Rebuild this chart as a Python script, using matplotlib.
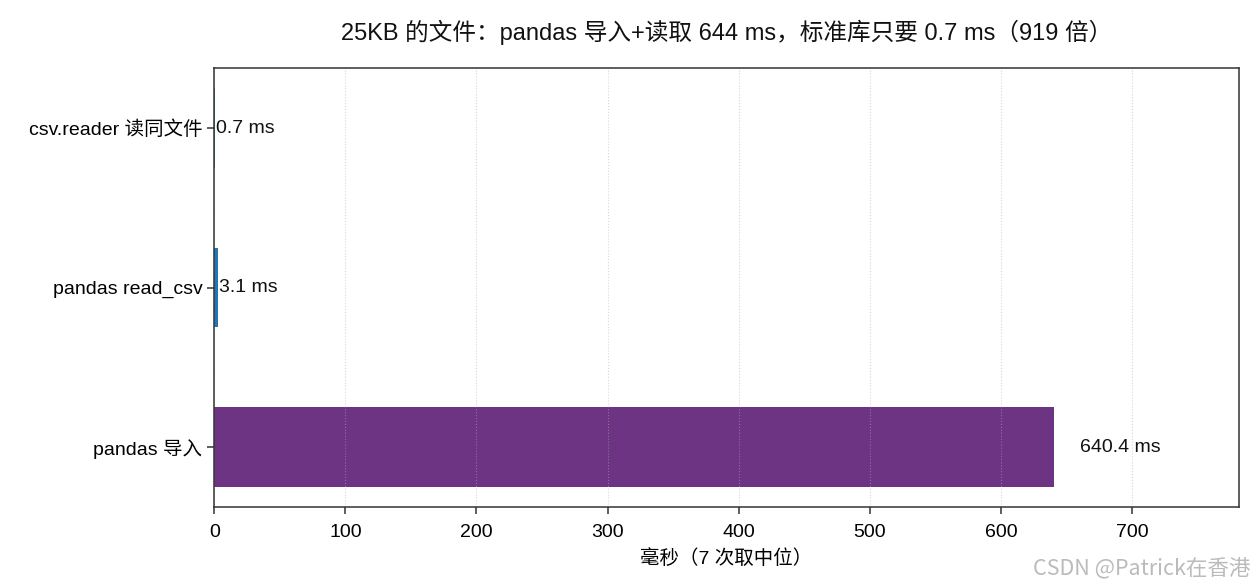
import matplotlib
matplotlib.use("Agg")
import matplotlib.pyplot as plt

plt.rcParams['font.family'] = ['Liberation Sans', 'Noto Sans CJK SC', 'DejaVu Sans']
plt.rcParams['axes.unicode_minus'] = False

# 数据（7 次取中位）
labels = ['pandas 导入', 'pandas read_csv', 'csv.reader 读同文件']
times_ms = [640.4, 3.1, 0.7]
colors = ['#6c3483', '#1f77b4', '#27ae60']

fig, ax = plt.subplots(figsize=(12.6, 5.88), dpi=100)
ax.barh(labels, times_ms, height=0.5, color=colors)

xmax = max(times_ms) * 1.22
ax.set_xlim(0, xmax)

for i, v in enumerate(times_ms):
    off = 20 if v > 100 else 0.3
    ax.text(v + off, i, f'{v:.1f} ms', va='center', ha='left', fontsize=14, color='#111111')

ax.set_title('25KB 的文件：pandas 导入+读取 644 ms，标准库只要 0.7 ms（919 倍）', fontsize=17, pad=20,
             color='#111111')
ax.set_xlabel('毫秒（7 次取中位）', fontsize=14, labelpad=6)
ax.tick_params(labelsize=14, length=5, width=1.1, color='#333333')
ax.tick_params(axis='x', pad=7)
ax.grid(axis='x', linestyle=':', alpha=0.5)
for s in ax.spines.values():
    s.set_color('#333333')
    s.set_linewidth(1.1)

fig.subplots_adjust(left=0.17, right=0.983, top=0.884, bottom=0.138)
fig.text(0.992, 0.015, 'CSDN @Patrick在香港', ha='right', va='bottom', fontsize=15.5, color='#bbbbbb',
         family=['Noto Sans CJK SC', 'DejaVu Sans'])

plt.savefig('out.png', dpi=100)
